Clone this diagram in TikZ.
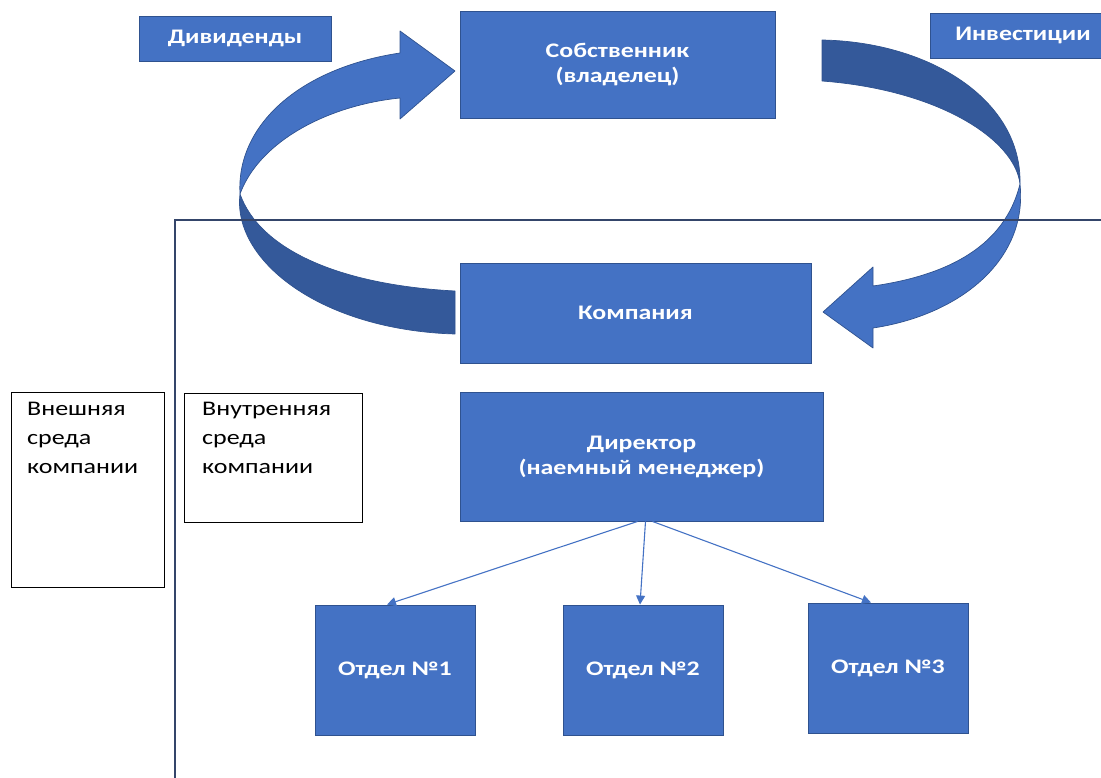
\documentclass[tikz,border=0pt]{standalone}
\usepackage{fontspec}
\setmainfont{Carlito}[FakeStretch=1.25]
\usetikzlibrary{arrows.meta}
\definecolor{boxblue}{HTML}{4472C4}
\definecolor{darkblue}{HTML}{34599A}
\definecolor{edgeblue}{HTML}{2F528F}
\definecolor{framecol}{HTML}{34456A}
\tikzset{
  bluebox/.style={draw=edgeblue, line width=0.9pt, fill=boxblue, text=white, align=center,
    font=\bfseries\fontsize{20.7}{25}\selectfont, inner sep=0pt},
  whitebox/.style={draw=black, line width=0.9pt, fill=white, inner sep=0pt},
  sidetext/.style={anchor=north west, align=left, inner sep=0pt, text=black,
    font=\fontsize{20.8}{29}\selectfont},
  lightpart/.style={fill=boxblue, draw=edgeblue, line width=0.7pt, line join=round},
  darkpart/.style={fill=darkblue, draw=edgeblue, line width=0.7pt, line join=round},
  link/.style={draw=boxblue, line width=1.1pt, -{Triangle[length=9pt,width=9pt]}},
}
\begin{document}
\begin{tikzpicture}[x=1pt,y=-1pt]
\useasboundingbox (0,0) rectangle (1101,778);

% side boxes
\node[whitebox, minimum width=153, minimum height=195] (ext) at (87.5,489.5) {};
\node[sidetext] (extlab) at (27,402) {Внешняя\\среда\\компании};
\node[whitebox, minimum width=178, minimum height=129] (int) at (273,457.5) {};
\node[sidetext] (intlab) at (202,402) {Внутренняя\\среда\\компании};

% left curved arrow (Дивиденды)
\path[darkpart] (240,194) .. controls (232,260) and (320,330) .. (455,334)
  -- (455,291) .. controls (340,285) and (260,250) .. (240,194) -- cycle;
\path[lightpart] (240,194) .. controls (236,125) and (300,68) .. (400,53)
  -- (400,31) -- (455,71) -- (400,119) -- (400,98)
  .. controls (330,105) and (260,140) .. (240,194) -- cycle;

% right curved arrow (Инвестиции)
\path[darkpart] (822,40) .. controls (930,42) and (1022,100) .. (1020,184)
  .. controls (1015,140) and (940,90) .. (822,81) -- cycle;
\path[lightpart] (1020,184) .. controls (1028,260) and (960,315) .. (873,328)
  -- (873,348) -- (823,312) -- (873,267) -- (873,286)
  .. controls (950,275) and (1005,245) .. (1020,184) -- cycle;

% frame of the internal environment
\draw[framecol, line width=1.1pt] (175,778) -- (175,220) -- (1110,220);

% blue boxes
\node[bluebox, minimum width=192, minimum height=45] (div) at (235,38.5) {Дивиденды};
\node[bluebox, minimum width=186, minimum height=45] (inv) at (1023,35.5) {Инвестиции};
\node[bluebox, minimum width=315, minimum height=107] (own) at (617.5,64.5) {Собственник\\(владелец)};
\node[bluebox, minimum width=351, minimum height=100] (comp) at (635.5,313) {Компания};
\node[bluebox, minimum width=363, minimum height=129] (dir) at (641.5,456.5) {Директор\\(наемный менеджер)};
\node[bluebox, minimum width=160, minimum height=130] (o1) at (395,670) {Отдел №1};
\node[bluebox, minimum width=160, minimum height=130] (o2) at (643,670) {Отдел №2};
\node[bluebox, minimum width=160, minimum height=130] (o3) at (888,668) {Отдел №3};

% connectors
\draw[link] ([xshift=-4pt]dir.south) -- ([xshift=-8pt]o1.north);
\draw[link] ([xshift=4pt]dir.south) -- ([xshift=-3pt]o2.north);
\draw[link] ([xshift=11pt]dir.south) -- ([xshift=-17pt]o3.north);
\end{tikzpicture}
\end{document}
